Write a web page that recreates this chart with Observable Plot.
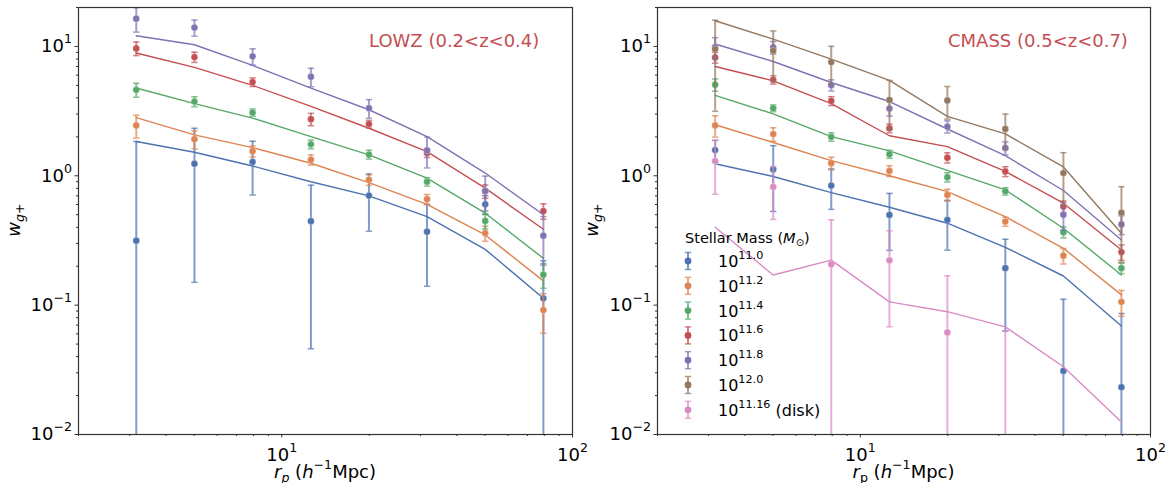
<!DOCTYPE html>
<html><head><meta charset="utf-8">
<script src="https://cdn.jsdelivr.net/npm/d3@7"></script>
<script src="https://cdn.jsdelivr.net/npm/@observablehq/plot@0.6"></script>
<style>
body{margin:0;background:#fff;}
#wrap{position:relative;width:1169px;height:483px;font-family:"DejaVu Sans",sans-serif;}
#wrap svg{position:absolute;top:0;overflow:visible;}
</style></head><body><div id="wrap"></div>
<script>
// projected separation bins (h^-1 Mpc)
const rp = [3.16, 5.01, 7.94, 12.6, 19.95, 31.6, 50.1, 79.4];
const xMajor = [10, 100];
const xMinor = [2,3,4,5,6,7,8,9,20,30,40,50,60,70,80,90];
const yMajor = [0.01, 0.1, 1, 10];
const yMinor = [0.02,0.03,0.04,0.05,0.06,0.07,0.08,0.09,0.2,0.3,0.4,0.5,0.6,0.7,0.8,0.9,2,3,4,5,6,7,8,9,20];

const massLabels = ["11.0","11.2","11.4","11.6","11.8","12.0","11.16"];
const colors = ["#4C72B0","#DD8452","#55A868","#C44E52","#8172B3","#937860","#DA8BC3"];

// ---- LOWZ (0.2<z<0.4) ----
const lowz_w_110   = [0.315, 1.24, 1.28, 0.446, 0.703, 0.370, 0.602, 0.113];
const lowz_err_110 = [1.525, 1.09, 0.57, 0.40, 0.33, 0.23, 0.10, 0.107];
const lowz_mod_110 = [1.84, 1.52, 1.19, 0.90, 0.70, 0.483, 0.270, 0.113];
const lowz_w_112   = [2.45, 1.92, 1.55, 1.33, 0.93, 0.659, 0.36, 0.0916];
const lowz_err_112 = [0.49, 0.31, 0.15, 0.12, 0.085, 0.058, 0.048, 0.031];
const lowz_mod_112 = [2.82, 2.07, 1.65, 1.25, 0.885, 0.602, 0.349, 0.154];
const lowz_w_114   = [4.62, 3.75, 3.08, 1.75, 1.46, 0.90, 0.448, 0.172];
const lowz_err_114 = [0.57, 0.33, 0.20, 0.135, 0.115, 0.067, 0.06, 0.037];
const lowz_mod_114 = [4.77, 3.61, 2.79, 2.01, 1.45, 0.96, 0.514, 0.230];
const lowz_w_116   = [9.66, 8.27, 5.30, 2.74, 2.51, 1.50, 0.76, 0.534];
const lowz_err_116 = [1.17, 0.75, 0.40, 0.30, 0.17, 0.115, 0.09, 0.073];
const lowz_mod_116 = [8.89, 6.89, 5.0, 3.44, 2.33, 1.54, 0.802, 0.386];
const lowz_w_118   = [16.4, 14.0, 8.38, 5.83, 3.33, 1.57, 0.764, 0.344];
const lowz_err_118 = [3.5, 2.0, 1.2, 0.95, 0.55, 0.42, 0.23, 0.14];
const lowz_mod_118 = [12.1, 10.3, 7.13, 4.76, 3.24, 2.01, 1.05, 0.50];

// ---- CMASS (0.5<z<0.7) ----
const cmass_w_110   = [1.58, 1.12, 0.84, 0.498, 0.456, 0.193, 0.031, 0.0232];
const cmass_err_110 = [0.3, 0.59, 0.29, 0.233, 0.19, 0.13, 0.08, 0.063];
const cmass_mod_110 = [1.24, 0.987, 0.741, 0.571, 0.43, 0.28, 0.168, 0.0689];
const cmass_w_112   = [2.45, 2.10, 1.25, 1.09, 0.711, 0.443, 0.241, 0.106];
const cmass_err_112 = [0.46, 0.25, 0.14, 0.105, 0.075, 0.035, 0.033, 0.024];
const cmass_mod_112 = [2.48, 1.81, 1.31, 1.0, 0.755, 0.483, 0.275, 0.120];
const cmass_w_114   = [5.06, 3.33, 2.0, 1.47, 0.975, 0.76, 0.366, 0.193];
const cmass_err_114 = [0.55, 0.2, 0.15, 0.105, 0.08, 0.05, 0.035, 0.018];
const cmass_mod_114 = [4.18, 3.01, 2.01, 1.56, 1.10, 0.778, 0.393, 0.171];
const cmass_w_116   = [8.22, 5.52, 3.79, 2.33, 1.38, 1.08, 0.578, 0.257];
const cmass_err_116 = [0.8, 0.4, 0.3, 0.18, 0.125, 0.095, 0.06, 0.035];
const cmass_mod_116 = [7.0, 5.42, 3.61, 2.04, 1.68, 1.08, 0.614, 0.267];
const cmass_w_118   = [9.89, 9.82, 5.02, 3.31, 2.40, 1.64, 0.50, 0.421];
const cmass_err_118 = [1.8, 1.1, 0.5, 0.42, 0.26, 0.19, 0.12, 0.07];
const cmass_mod_118 = [10.45, 7.65, 5.26, 3.75, 2.30, 1.43, 0.77, 0.319];
const cmass_w_120   = [9.55, 9.27, 7.57, 3.86, 3.82, 2.30, 1.05, 0.519];
const cmass_err_120 = [6.4, 3.9, 2.45, 1.6, 1.08, 0.7, 0.46, 0.305];
const cmass_mod_120 = [15.8, 11.4, 7.98, 5.46, 2.88, 2.11, 1.17, 0.36];
const cmass_w_disk   = [1.30, 0.82, 0.207, 0.222, 0.0615, -0.04, null, null];
const cmass_err_disk = [0.58, 0.36, 0.25, 0.154, 0.107, 0.103, null, null];
const cmass_mod_disk = [0.40, 0.171, 0.223, 0.106, 0.089, 0.068, 0.0334, 0.0125];

const lowzSeries = [
  {color: colors[0], w: lowz_w_110, err: lowz_err_110, mod: lowz_mod_110},
  {color: colors[1], w: lowz_w_112, err: lowz_err_112, mod: lowz_mod_112},
  {color: colors[2], w: lowz_w_114, err: lowz_err_114, mod: lowz_mod_114},
  {color: colors[3], w: lowz_w_116, err: lowz_err_116, mod: lowz_mod_116},
  {color: colors[4], w: lowz_w_118, err: lowz_err_118, mod: lowz_mod_118}
];
const cmassSeries = [
  {color: colors[0], w: cmass_w_110, err: cmass_err_110, mod: cmass_mod_110},
  {color: colors[1], w: cmass_w_112, err: cmass_err_112, mod: cmass_mod_112},
  {color: colors[2], w: cmass_w_114, err: cmass_err_114, mod: cmass_mod_114},
  {color: colors[3], w: cmass_w_116, err: cmass_err_116, mod: cmass_mod_116},
  {color: colors[4], w: cmass_w_118, err: cmass_err_118, mod: cmass_mod_118},
  {color: colors[5], w: cmass_w_120, err: cmass_err_120, mod: cmass_mod_120},
  {color: colors[6], w: cmass_w_disk, err: cmass_err_disk, mod: cmass_mod_disk}
];

const FS = 18;
const cap = {draw(ctx, size){ const r = Math.sqrt(size/Math.PI); ctx.moveTo(-r,0); ctx.lineTo(r,0); }};
const expFmt = d => "10^" + String(Math.round(Math.log10(d))).replace("-", "\u2212");

function seriesMarks(s) {
  const pts = rp.map((x,i) => ({x, w: s.w[i], e: s.err[i]})).filter(d => d.w != null);
  const bars = pts.map(d => ({x: d.x, lo: d.w - d.e > 0 ? d.w - d.e : 1e-5, hi: d.w + d.e}));
  const model = rp.map((x,i) => ({x, m: s.mod[i]}));
  return [
    Plot.line(model, {x: "x", y: "m", stroke: s.color, strokeWidth: 1.4, clip: true}),
    Plot.ruleX(bars, {x: "x", y1: "lo", y2: "hi", stroke: s.color, strokeOpacity: 0.7, strokeWidth: 2, clip: true}),
    Plot.dot(bars, {x: "x", y: "hi", symbol: cap, r: 3.2, fill: "none", stroke: s.color, strokeOpacity: 0.7, strokeWidth: 1.5, clip: true}),
    Plot.dot(bars, {x: "x", y: "lo", symbol: cap, r: 3.2, fill: "none", stroke: s.color, strokeOpacity: 0.7, strokeWidth: 1.5, clip: true}),
    Plot.dot(pts.filter(d => d.w > 0), {x: "x", y: "w", r: 3.4, fill: s.color, stroke: "white", strokeOpacity: 0.35, strokeWidth: 0.8, clip: true})
  ];
}

function addRich(textSel, parts, fs) {
  let cur = 0;
  for (const p of parts) {
    const shift = p.pos === "sup" ? -0.5*fs : p.pos === "sub" ? 0.24*fs : 0;
    const ts = textSel.append("tspan").text(p.t);
    if (shift !== cur) { ts.attr("dy", shift - cur); cur = shift; }
    if (p.pos) ts.attr("font-size", 0.7*fs);
    if (p.it) ts.attr("font-style", "italic");
  }
}

function makePanel({series, width, marginLeft, marginRight, title, pItalic, ylabX, legend}) {
  const chart = Plot.plot({
    width, height: 483,
    marginLeft, marginRight, marginTop: 7, marginBottom: 49,
    style: {fontFamily: "DejaVu Sans", fontSize: FS + "px", color: "#000", background: "transparent"},
    x: {type: "log", domain: [2, 100]},
    y: {type: "log", domain: [0.01, 20]},
    marks: [
      Plot.axisX({ticks: xMinor, tickSize: 2, tickFormat: () => "", label: null, stroke: "#333"}),
      Plot.axisX({ticks: xMajor, tickSize: 3.5, tickPadding: 10, tickFormat: expFmt, label: null, stroke: "#333", fontSize: FS}),
      Plot.axisY({ticks: yMinor, tickSize: 2, tickFormat: () => "", label: null, stroke: "#333"}),
      Plot.axisY({ticks: yMajor, tickSize: 3.5, tickPadding: 3, tickFormat: expFmt, label: null, stroke: "#333", fontSize: FS}),
      ...series.flatMap(seriesMarks),
      Plot.frame({stroke: "#333", strokeWidth: 1.2})
    ]
  });
  const svg = d3.select(chart);
  // superscripts on tick labels
  svg.selectAll("text").each(function() {
    const t = this.textContent;
    if (t.includes("^")) {
      const [base, exp] = t.split("^");
      const sel = d3.select(this);
      sel.selectAll("*").remove();
      this.textContent = "";
      addRich(sel, [{t: base}, {t: exp, pos: "sup"}], FS);
    }
  });
  const fx0 = marginLeft, fx1 = width - marginRight;
  // panel title
  svg.append("text").attr("x", fx0 + 291).attr("y", 47).attr("text-anchor", "start").attr("fill", "#C44E52")
    .attr("font-size", FS).text(title);
  // x label
  const xl = svg.append("text").attr("x", (fx0 + fx1)/2).attr("y", 478).attr("text-anchor", "middle").attr("font-size", FS).attr("fill", "#000");
  addRich(xl, [{t: "r", it: true}, {t: "p", pos: "sub", it: pItalic}, {t: " ("}, {t: "h", it: true}, {t: "\u22121", pos: "sup"}, {t: "Mpc)"}], FS);
  // y label
  const yl = svg.append("text").attr("transform", `translate(${ylabX},220) rotate(-90)`).attr("text-anchor", "middle").attr("font-size", FS).attr("fill", "#000");
  addRich(yl, [{t: "w", it: true}, {t: "g", pos: "sub", it: true}, {t: "+", pos: "sub"}], FS);
  if (legend) {
    const LF = 14.5, mx = 104, tx = 134, y0 = 261, dyL = 24.8;
    const lt = svg.append("text").attr("x", 101).attr("y", 243).attr("text-anchor", "start").attr("font-size", LF).attr("fill", "#000");
    addRich(lt, [{t: "Stellar Mass ("}, {t: "M", it: true}, {t: "\u2299", pos: "sub"}, {t: ")"}], LF);
    massLabels.forEach((m, i) => {
      const cy = y0 + i*dyL, c = colors[i];
      const g = svg.append("g");
      g.append("line").attr("x1", mx).attr("x2", mx).attr("y1", cy-8.5).attr("y2", cy+8.5).attr("stroke", c).attr("stroke-opacity", 0.7).attr("stroke-width", 2);
      [cy-8.5, cy+8.5].forEach(yy => g.append("line").attr("x1", mx-3.2).attr("x2", mx+3.2).attr("y1", yy).attr("y2", yy).attr("stroke", c).attr("stroke-opacity", 0.7).attr("stroke-width", 1.5));
      g.append("circle").attr("cx", mx).attr("cy", cy).attr("r", 3.4).attr("fill", c);
      const t = svg.append("text").attr("x", tx).attr("y", cy + 6).attr("text-anchor", "start").attr("font-size", 16).attr("fill", "#000");
      const parts = [{t: "10"}, {t: m, pos: "sup"}];
      if (i === 6) parts.push({t: " (disk)"});
      addRich(t, parts, 16);
    });
  }
  return chart;
}

const wrap = document.getElementById("wrap");
const left = makePanel({series: lowzSeries, width: 584, marginLeft: 78, marginRight: 12, title: "LOWZ (0.2<z<0.4)", pItalic: true, ylabX: 20, legend: false});
left.style.left = "0px";
const right = makePanel({series: cmassSeries, width: 585, marginLeft: 73, marginRight: 19, title: "CMASS (0.5<z<0.7)", pItalic: false, ylabX: 14, legend: true});
right.style.left = "584px";
wrap.appendChild(left);
wrap.appendChild(right);
</script></body></html>
